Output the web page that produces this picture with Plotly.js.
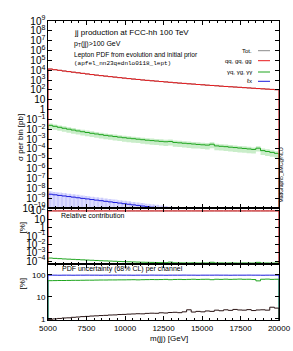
<!DOCTYPE html>
<html><head><meta charset="utf-8">
<script src="https://cdn.plot.ly/plotly-3.0.1.min.js"></script>
<style>html,body{margin:0;padding:0;background:#fff}#chart{width:293px;height:351px}</style>
</head><body><div id="chart"></div>
<script>
// bin edges of m(jj) histogram [GeV]
const mMin = 5000, mMax = 20000, binWidth = 300;
const xTickVals = [5000, 7500, 10000, 12500, 15000, 17500, 20000];
const xTickText = ['5000', '7500', '10000', '12500', '15000', '17500', '20000'];

// sigma per bin [pb]
const qcdXsec = [13150, 11190, 9750, 8300, 7230, 6300, 5490, 4780, 4160, 3620,
  3160, 2810, 2500, 2230, 1990, 1770, 1580, 1410, 1260, 1150,
  1020, 928, 849, 774, 706, 644, 588, 536, 489, 456,
  416, 389, 354, 330, 301, 281, 262, 239, 223, 208,
  195, 182, 169, 158, 147, 137, 128, 120, 112, 105];
const gammaXsec = [2.51e-2, 2.00e-2, 1.58e-2, 1.26e-2, 1.02e-2, 8.32e-3, 6.76e-3, 5.62e-3, 4.68e-3, 3.89e-3,
  3.31e-3, 2.82e-3, 2.40e-3, 2.09e-3, 1.82e-3, 1.58e-3, 1.38e-3, 1.23e-3, 1.10e-3, 9.77e-4,
  8.71e-4, 7.76e-4, 7.08e-4, 6.46e-4, 5.89e-4, 5.37e-4, 5.75e-4, 4.57e-4, 4.17e-4, 3.80e-4,
  3.47e-4, 3.16e-4, 2.88e-4, 2.63e-4, 2.45e-4, 3.02e-4, 2.04e-4, 1.86e-4, 1.70e-4, 1.51e-4,
  1.38e-4, 1.23e-4, 1.12e-4, 1.00e-4, 8.91e-5, 1.20e-4, 6.76e-5, 5.50e-5, 4.47e-5, 3.55e-5];
const leptonXsec = [2.51e-9, 2.19e-9, 1.90e-9, 1.67e-9, 1.45e-9, 1.27e-9, 1.10e-9, 9.50e-10, 8.35e-10, 7.20e-10,
  6.30e-10, 5.52e-10, 4.78e-10, 4.18e-10, 3.62e-10, 3.17e-10, 2.74e-10, 2.41e-10, 2.08e-10, 1.83e-10,
  1.58e-10, 1.38e-10, 1.21e-10, 1.05e-10, 9.10e-11, 7.95e-11, 6.90e-11, 6.05e-11, 5.24e-11, 4.58e-11,
  3.97e-11, 3.48e-11, 3.01e-11, 2.64e-11, 2.28e-11, 2.01e-11, 1.73e-11, 1.52e-11, 1.31e-11, 1.15e-11,
  1.00e-11, 8.70e-12, 7.60e-12, 6.60e-12, 5.76e-12, 5.00e-12, 4.38e-12, 3.79e-12, 3.32e-12, 2.87e-12];

// relative contribution [%] of the photon channel
const gammaRelPct = [2.3e-4, 2.1e-4, 1.95e-4, 1.8e-4, 1.7e-4, 1.6e-4, 1.5e-4, 1.4e-4, 1.32e-4, 1.25e-4,
  1.18e-4, 1.1e-4, 1.05e-4, 1.0e-4, 9.5e-5, 9.0e-5, 8.6e-5, 8.2e-5, 7.9e-5, 7.6e-5,
  7.3e-5, 7.1e-5, 6.9e-5, 6.7e-5, 6.5e-5, 6.4e-5, 7.5e-5, 6.2e-5, 6.1e-5, 6.0e-5,
  6.0e-5, 6.2e-5, 5.9e-5, 6.0e-5, 5.9e-5, 7.2e-5, 5.9e-5, 6.0e-5, 5.8e-5, 6.0e-5,
  5.9e-5, 5.8e-5, 6.0e-5, 5.9e-5, 5.8e-5, 7.0e-5, 5.8e-5, 5.9e-5, 5.7e-5, 5.9e-5];

// PDF uncertainty (68% CL) per channel [%]
const totUncPct = [0.95, 1.0, 1.05, 1.1, 1.12, 1.18, 1.22, 1.27, 1.3, 1.35,
  1.38, 1.42, 1.45, 1.5, 1.52, 1.58, 1.6, 1.65, 1.68, 1.72,
  1.7, 1.78, 1.82, 1.8, 1.9, 1.85, 1.95, 2.0, 1.92, 2.1,
  2.6, 2.05, 2.2, 2.1, 2.3, 2.2, 2.5, 2.35, 2.6, 2.45,
  2.7, 2.55, 2.5, 2.65, 2.4, 2.55, 2.6, 2.5, 3.4, 3.1];
const gammaUncPct = [55, 55.5, 56, 56, 56.5, 57, 57, 57.5, 58, 58,
  58.5, 59, 59, 59.5, 59.5, 60, 60, 60.5, 61, 60,
  61, 61.5, 62, 61.5, 62, 63, 61, 62.5, 63, 62,
  63, 64, 62.5, 63.5, 64, 61, 64, 63, 64.5, 63,
  64, 65, 63.5, 64, 62, 54, 64, 65, 63, 64];
const leptonUncPct = [98, 98, 97.5, 98, 98, 97.5, 98, 98, 98.5, 98,
  98, 97.5, 98, 98, 98, 98.5, 98, 98, 97.5, 98,
  98, 98, 98.5, 98, 98, 97.5, 98, 98, 98, 98.5,
  98, 98, 97.5, 98, 98, 98, 98.5, 98, 98, 97.5,
  98, 98, 98, 98.5, 98, 98, 97.5, 98, 98, 98];

const legendLabels = ['Tot.', 'qq, gq, gg', '\u03b3q, \u03b3g, \u03b3\u03b3', '\u2113x'];
const colTot = '#8c8c8c', colQcd = '#e8191c', colGam = '#1fa51f', colLep = '#1b1bdc';

const nBins = qcdXsec.length;
const edges = [];
for (let i = 0; i <= nBins; i++) edges.push(mMin + i * binWidth);
const FLOOR = 1e-40;

function hist(vals, withFloor) {
  const x = [], y = [];
  if (withFloor) { x.push(edges[0]); y.push(FLOOR); }
  vals.forEach((v, i) => { x.push(edges[i]); y.push(v); });
  x.push(edges[nBins]); y.push(vals[nBins - 1]);
  if (withFloor) { x.push(edges[nBins]); y.push(FLOOR); }
  return {x, y};
}

const totXsec = qcdXsec.map((v, i) => v + gammaXsec[i] + leptonXsec[i]);
const totRelPct = totXsec.map(v => 100);
const qcdRelPct = qcdXsec.map((v, i) => v / totXsec[i] * 100);

function line(vals, color, xa, ya, w) {
  const h = hist(vals, true);
  return {x: h.x, y: h.y, xaxis: xa, yaxis: ya, type: 'scatter', mode: 'lines',
    line: {shape: 'hv', color: color, width: w || 1}, hoverinfo: 'skip', showlegend: false};
}
function band(vals, unc, fillcolor, pattern) {
  const lo = hist(vals.map((v, i) => v * (1 - unc[i] / 100)), false);
  const hi = hist(vals.map((v, i) => v * (1 + unc[i] / 100)), false);
  const a = {x: lo.x, y: lo.y, xaxis: 'x', yaxis: 'y', type: 'scatter', mode: 'lines',
    line: {shape: 'hv', width: 0}, hoverinfo: 'skip', showlegend: false};
  const b = {x: hi.x, y: hi.y, xaxis: 'x', yaxis: 'y', type: 'scatter', mode: 'lines',
    line: {shape: 'hv', width: 0}, fill: 'tonexty', fillcolor: fillcolor,
    hoverinfo: 'skip', showlegend: false};
  if (pattern) b.fillpattern = pattern;
  return [a, b];
}

const traces = [
  ...band(gammaXsec, gammaUncPct, 'rgba(60,190,60,0.28)'),
  ...band(leptonXsec, leptonUncPct, 'rgba(110,110,255,0.35)',
    {shape: '|', fgcolor: 'rgba(60,60,230,0.35)', bgcolor: 'rgba(140,140,255,0.30)', size: 4, solidity: 0.15}),
  line(totXsec, colTot, 'x', 'y'),
  line(leptonXsec, colLep, 'x', 'y'),
  line(gammaXsec, colGam, 'x', 'y'),
  line(qcdXsec, colQcd, 'x', 'y'),
  line(totRelPct, colTot, 'x2', 'y2'),
  line(gammaRelPct, colGam, 'x2', 'y2'),
  line(qcdRelPct, colQcd, 'x2', 'y2'),
  line(leptonUncPct, colLep, 'x3', 'y3'),
  line(gammaUncPct, colGam, 'x3', 'y3'),
  line(totUncPct, '#2a1414', 'x3', 'y3')
];

const FONT = 'Liberation Sans, Arial, sans-serif';
const xBase = {range: [mMin, mMax], showgrid: false, zeroline: false, showline: true, linecolor: '#000',
  linewidth: 1, mirror: 'ticks', ticks: 'inside', ticklen: 4, tickcolor: '#000',
  tickmode: 'array', tickvals: xTickVals, ticktext: xTickText,
  minor: {dtick: 500, ticks: 'inside', ticklen: 2, tickcolor: '#000'},
  tickfont: {family: FONT, size: 8, color: '#000'}};
const yBase = {type: 'log', showgrid: false, zeroline: false, showline: true, linecolor: '#000',
  linewidth: 1, mirror: 'ticks', ticks: 'inside', ticklen: 4, tickcolor: '#000',
  exponentformat: 'power', dtick: 1, tick0: 0, tickfont: {family: FONT, size: 8, color: '#000'}};

// plot area: px 48..279 horizontally, 21..320 vertically
const px = v => (v - 48) / 231, py = v => (320 - v) / 299;
const legendRows = [50.7, 60.7, 72, 81.3];
const legendCols = [colTot, colQcd, colGam, colLep];

const annotations = [
  {text: 'jj production at FCC-hh 100 TeV', x: px(72), y: py(33), size: 8},
  {text: 'p<sub>T</sub>(jj)>100 GeV', x: px(72), y: py(44), size: 7},
  {text: 'Lepton PDF from evolution and initial prior', x: px(72), y: py(55), size: 6.6},
  {text: '(apfel_nn23qednlo0118_lept)', x: px(72), y: py(63.5), size: 6, family: 'Liberation Mono, monospace'},
  {text: 'Relative contribution', x: px(59), y: py(215.5), size: 7},
  {text: 'PDF uncertainty (68% CL) per channel', x: px(60), y: py(269), size: 7}
].map(a => ({text: a.text, x: a.x, y: a.y, xref: 'paper', yref: 'paper', xanchor: 'left', yanchor: 'middle',
  showarrow: false, font: {family: a.family || FONT, size: a.size, color: '#000'}}));

legendLabels.forEach((t, i) => annotations.push({text: t, x: px(254), y: py(legendRows[i]),
  xref: 'paper', yref: 'paper', xanchor: 'right', yanchor: 'middle', showarrow: false,
  font: {family: FONT, size: 6, color: '#000'}}));

annotations.push(
  {text: '\u03c3 per bin [pb]', x: px(14), y: py(112), xref: 'paper', yref: 'paper', textangle: -90,
    showarrow: false, font: {family: FONT, size: 8, color: '#000'}},
  {text: '[%]', x: px(15), y: py(236), xref: 'paper', yref: 'paper', textangle: -90,
    showarrow: false, font: {family: FONT, size: 8, color: '#000'}},
  {text: '[%]', x: px(15), y: py(292), xref: 'paper', yref: 'paper', textangle: -90,
    showarrow: false, font: {family: FONT, size: 8, color: '#000'}},
  {text: 'MadGraph5_aMC@NLO', x: px(285.5), y: py(175), xref: 'paper', yref: 'paper', textangle: -90,
    showarrow: false, font: {family: FONT, size: 5, color: '#000'}},
  {text: 'm(jj) [GeV]', x: px(169), y: py(338), xref: 'paper', yref: 'paper', yanchor: 'middle',
    showarrow: false, font: {family: FONT, size: 8, color: '#000'}}
);

const shapes = legendCols.map((c, i) => ({type: 'line', xref: 'paper', yref: 'paper',
  x0: px(258), x1: px(270), y0: py(legendRows[i]), y1: py(legendRows[i]), line: {color: c, width: 1}}));

const layout = {
  width: 293, height: 351,
  margin: {l: 48, r: 14, t: 21, b: 31, pad: 0},
  paper_bgcolor: '#fff', plot_bgcolor: '#fff',
  showlegend: false,
  xaxis: Object.assign({}, xBase, {anchor: 'y', matches: 'x3', showticklabels: false}),
  xaxis2: Object.assign({}, xBase, {anchor: 'y2', matches: 'x3', showticklabels: false}),
  xaxis3: Object.assign({}, xBase, {anchor: 'y3', showticklabels: true}),
  yaxis: Object.assign({}, yBase, {domain: [py(208), 1], range: [-10, 9]}),
  yaxis2: Object.assign({}, yBase, {domain: [py(264), py(208)], range: [-4.35, 2.35]}),
  yaxis3: Object.assign({}, yBase, {domain: [0, py(264)], range: [-0.05, 2.5],
    tickmode: 'array', tickvals: [1, 10, 100], ticktext: ['1', '10', '100']}),
  annotations: annotations,
  shapes: shapes
};

Plotly.newPlot('chart', traces, layout, {displayModeBar: false, staticPlot: true});
</script>
</body></html>
